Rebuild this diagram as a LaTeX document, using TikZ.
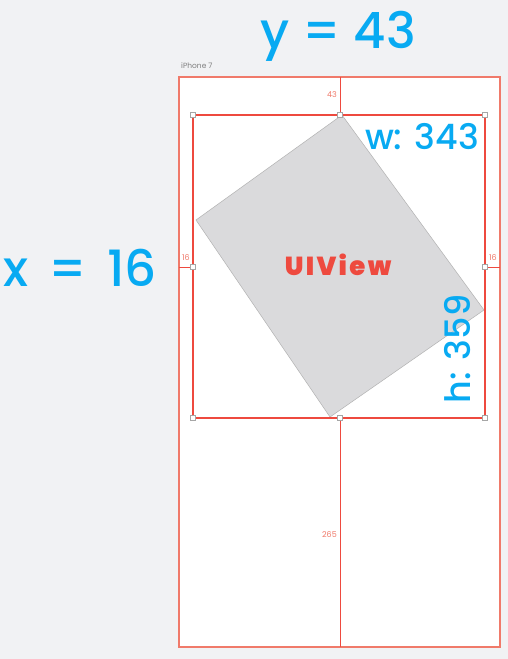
\documentclass[tikz,border=0pt]{standalone}
\usepackage{fontspec}
\setmainfont{Poppins}
\newfontfamily\sizefont{Poppins Medium}
\newfontfamily\viewfont{Poppins Black}[LetterSpace=9]
\definecolor{canvas}{HTML}{F1F2F4}
\definecolor{guidered}{HTML}{EE4A3F}
\definecolor{framered}{HTML}{F07A6A}
\definecolor{sizeblue}{HTML}{08AAF2}
\definecolor{viewgray}{HTML}{DADADC}
\tikzset{
  bigtext/.style={text=sizeblue,font=\sizefont\fontsize{50}{50}\selectfont,inner sep=0pt},
  dimtext/.style={text=sizeblue,font=\sizefont\fontsize{35}{35}\selectfont,inner sep=0pt},
  tinytext/.style={text=framered,font=\fontsize{8}{8}\selectfont,inner sep=0pt},
  handle/.style={draw=gray!70,fill=white,line width=0.5pt,minimum size=5pt,inner sep=0pt}
}
\begin{document}
\begin{tikzpicture}[x=1pt,y=-1pt]
        %% Canvas
        \fill[canvas] (0,0) rectangle (508,659);
        \useasboundingbox (0,0) rectangle (508,659);
        %% Phone
        \draw[framered,fill=white,line width=1.5pt] (179,77) rectangle (500,647);
        \node[text=gray,font=\fontsize{7.5}{7.5}\selectfont,anchor=west,inner sep=0pt] (phone) at (181,66) {iPhone 7};
        %% Rotated view
        \fill[viewgray,draw=gray!60,line width=0.5pt] (342,115) -- (484,310) -- (330,417) -- (196,220) -- cycle;
        \node[text=guidered,font=\viewfont\fontsize{26}{26}\selectfont,inner sep=0pt] (view) at (338,265) {UIView};
        %% Frame
        \draw[guidered,line width=2.6pt] (193,115) rectangle (485,418);
        \coordinate (top) at (340,77);
        \coordinate (bottom) at (340,647);
        \coordinate (left) at (179,267);
        \coordinate (right) at (500,267);
        \node[handle] (tl) at (193,115) {};
        \node[handle] (tm) at (340,115) {};
        \node[handle] (tr) at (485,115) {};
        \node[handle] (ml) at (193,267) {};
        \node[handle] (mr) at (485,267) {};
        \node[handle] (bl) at (193,418) {};
        \node[handle] (bm) at (340,418) {};
        \node[handle] (br) at (485,418) {};
        %% Margins
        \draw[guidered,line width=1pt] (top) -- (tm);
        \draw[guidered,line width=1pt] (bm) -- (bottom);
        \draw[guidered,line width=1pt] (left) -- (ml);
        \draw[guidered,line width=1pt] (mr) -- (right);
        \node[tinytext,anchor=east] (mtop) at (337,95) {43};
        \node[tinytext,anchor=east] (mbottom) at (337,535) {265};
        \node[tinytext] (mleft) at (186,258) {16};
        \node[tinytext] (mright) at (493,258) {16};
        %% Sizes
        \node[bigtext] (ylabel) at (338,36) {y = 43};
        \node[bigtext] (xlabel) at (80,268) {x\hspace{7pt} = \hspace{7pt}16};
        \node[dimtext] (wlabel) at (422,137) {w: 343};
        \node[dimtext,rotate=90] (hlabel) at (458,349) {h: 359};
    \end{tikzpicture}
\end{document}
